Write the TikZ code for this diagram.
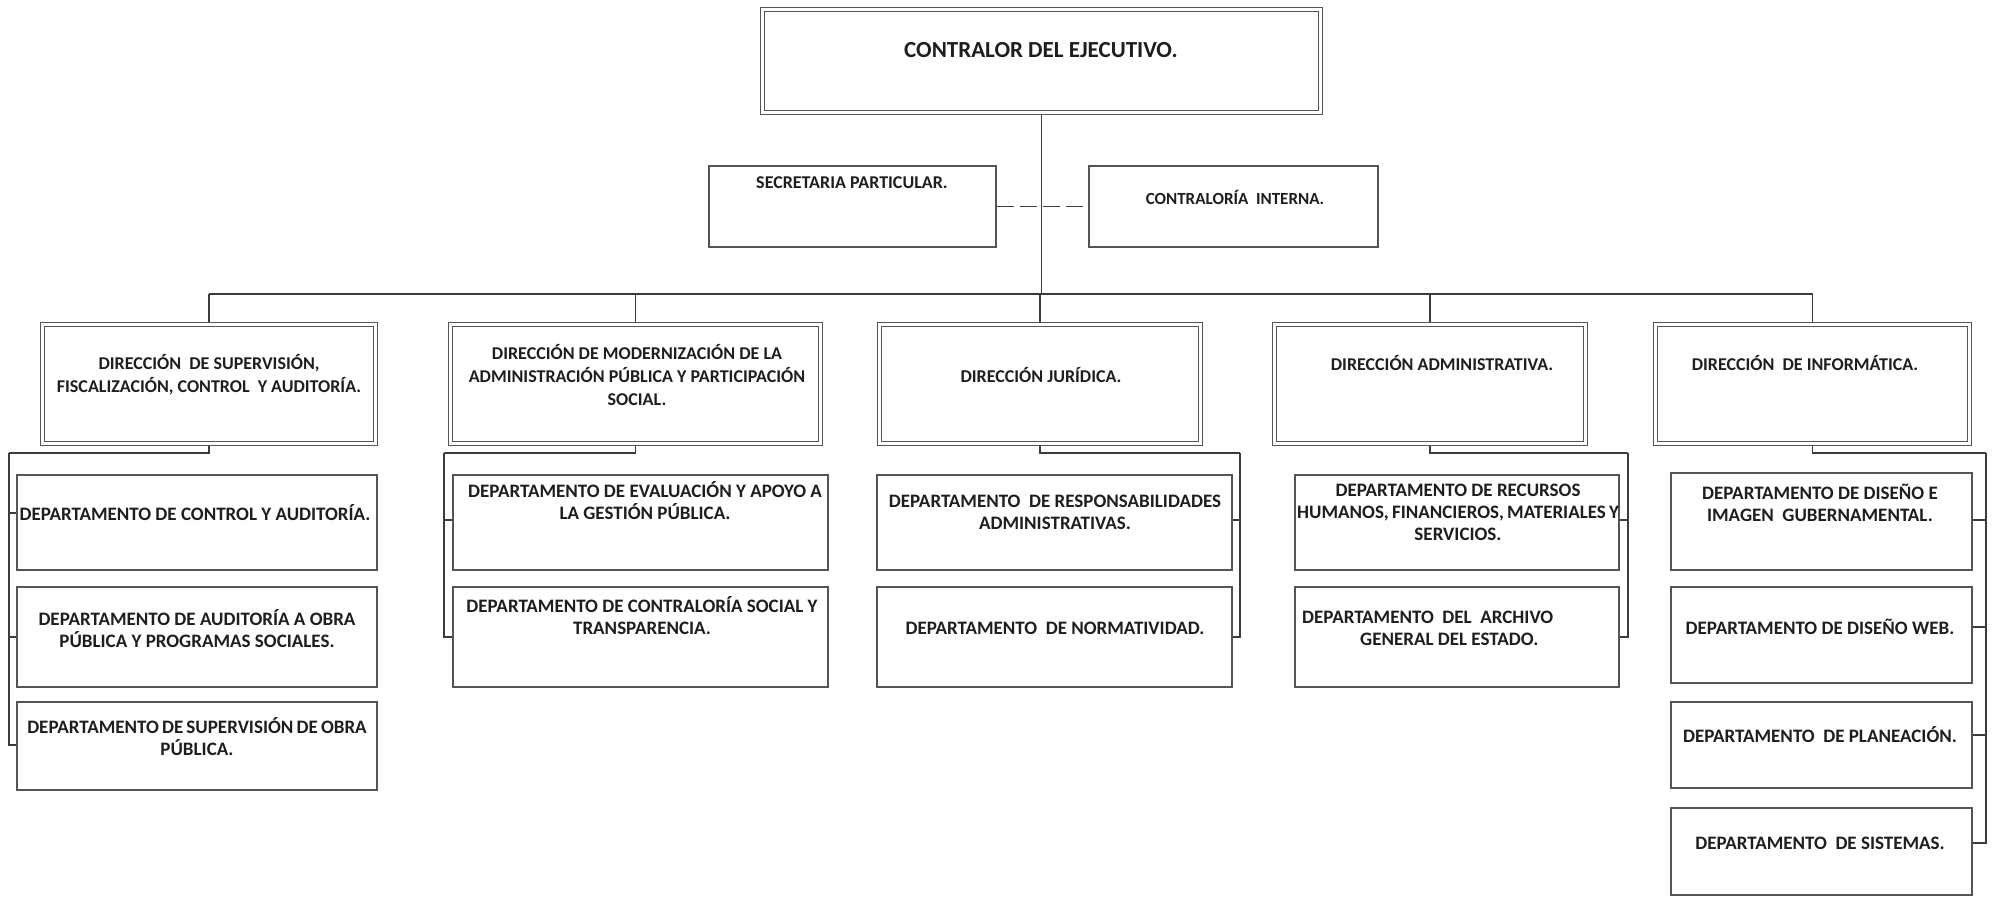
\documentclass[tikz,border=0pt]{standalone}
\usepackage{fontspec}
\setmainfont{Carlito}
\usetikzlibrary{backgrounds}
\definecolor{ln}{HTML}{555555}
\definecolor{cn}{HTML}{3C3C3C}
\definecolor{tx}{HTML}{1E1E1E}
\begin{document}
\begin{tikzpicture}[x=1pt,y=-1pt,
  dbox/.style={draw=ln, line width=1.1pt, double=white, double distance=2.8pt, fill=white, inner sep=0pt},
  sbox/.style={draw=ln, line width=1.3pt, fill=white, inner sep=0pt},
  conn/.style={draw=cn, line width=1.2pt},
  dept/.style={text=tx, font=\bfseries\fontsize{19}{22}\selectfont, align=center, inner sep=0pt},
  dirl/.style={text=tx, font=\bfseries\fontsize{18}{23}\selectfont, align=center, inner sep=0pt}]
\useasboundingbox (0,0) rectangle (1992,897);

% top level
\node[dbox, minimum width=558pt, minimum height=103pt] (top) at (1041.5,61) {};
\node[sbox, minimum width=287pt, minimum height=81pt] (sec) at (852.5,206.5) {};
\node[sbox, minimum width=289pt, minimum height=81pt] (con) at (1233.5,206.5) {};

% direcciones
\node[dbox, minimum width=333pt, minimum height=119pt] (d1) at (209,384) {};
\node[dbox, minimum width=370pt, minimum height=119pt] (d2) at (635.5,384) {};
\node[dbox, minimum width=321pt, minimum height=119pt] (d3) at (1040,384) {};
\node[dbox, minimum width=311pt, minimum height=119pt] (d4) at (1430,384) {};
\node[dbox, minimum width=314pt, minimum height=119pt] (d5) at (1812.5,384) {};

% departamentos
\node[sbox, minimum width=360pt, minimum height=95pt] (p11) at (197,522.5) {};
\node[sbox, minimum width=360pt, minimum height=100pt] (p12) at (197,637) {};
\node[sbox, minimum width=360pt, minimum height=88pt] (p13) at (197,746) {};
\node[sbox, minimum width=375pt, minimum height=95pt] (p21) at (640.5,522.5) {};
\node[sbox, minimum width=375pt, minimum height=100pt] (p22) at (640.5,637) {};
\node[sbox, minimum width=355pt, minimum height=95pt] (p31) at (1054.5,522.5) {};
\node[sbox, minimum width=355pt, minimum height=100pt] (p32) at (1054.5,637) {};
\node[sbox, minimum width=324pt, minimum height=95pt] (p41) at (1457,522.5) {};
\node[sbox, minimum width=324pt, minimum height=100pt] (p42) at (1457,637) {};
\node[sbox, minimum width=301pt, minimum height=97pt] (p51) at (1821.5,521.5) {};
\node[sbox, minimum width=301pt, minimum height=96pt] (p52) at (1821.5,635) {};
\node[sbox, minimum width=301pt, minimum height=86pt] (p53) at (1821.5,745) {};
\node[sbox, minimum width=301pt, minimum height=87pt] (p54) at (1821.5,851.5) {};

% connectors
\begin{scope}[on background layer]
\fill[white] (0,0) rectangle (1992,897);
\coordinate (busL) at (209,294);
\coordinate (busR) at (1813,294);
\draw[conn] (top.south) -- (top.south |- busL);
\draw[conn] (busL) -- (busR);
\draw[conn] (d1.north) -- (d1.north |- busL);
\draw[conn] (d2.north) -- (d2.north |- busL);
\draw[conn] (d3.north) -- (d3.north |- busL);
\draw[conn] (d4.north) -- (d4.north |- busL);
\draw[conn] (d5.north) -- (d5.north |- busL);
\draw[conn, dash pattern=on 17pt off 6pt] (sec.east) -- (con.west);

\coordinate (j1) at (9,453);
\coordinate (j2) at (444,453);
\coordinate (j3) at (1240,453);
\coordinate (j4) at (1628,453);
\coordinate (j5) at (1986,453);
\draw[conn] (d1.south) |- (j1);
\draw[conn] (j1) |- ([yshift=9.5pt]p11.west);
\draw[conn] (j1) |- (p12.west);
\draw[conn] (j1) |- ([yshift=1pt]p13.west);
\draw[conn] (d2.south) |- (j2);
\draw[conn] (j2) |- ([yshift=2.5pt]p21.west);
\draw[conn] (j2) |- (p22.west);
\draw[conn] (d3.south) |- (j3);
\draw[conn] (j3) |- ([yshift=2.5pt]p31.east);
\draw[conn] (j3) |- (p32.east);
\draw[conn] (d4.south) |- (j4);
\draw[conn] (j4) |- ([yshift=2.5pt]p41.east);
\draw[conn] (j4) |- (p42.east);
\draw[conn] (d5.south) |- (j5);
\draw[conn] (j5) |- ([yshift=1.5pt]p51.east);
\draw[conn] (j5) |- ([yshift=8pt]p52.east);
\draw[conn] (j5) |- ([yshift=10pt]p53.east);
\draw[conn] (j5) |- ([yshift=8.5pt]p54.east);
\end{scope}

% texts
\node[dept, font=\bfseries\fontsize{23}{27}\selectfont] (t0) at (1041,50) {CONTRALOR DEL EJECUTIVO.};
\node[dirl] (ts) at (852,183) {SECRETARIA PARTICULAR.};
\node[dirl, font=\bfseries\fontsize{17}{21}\selectfont] (tc) at (1235,197) {CONTRALORÍA~ INTERNA.};

\node[dirl] (td1) at (209,375) {DIRECCIÓN~ DE SUPERVISIÓN,\\FISCALIZACIÓN, CONTROL~ Y AUDITORÍA.};
\node[dirl] (td2) at (637,374.5) {DIRECCIÓN DE MODERNIZACIÓN DE LA\\ADMINISTRACIÓN PÚBLICA Y PARTICIPACIÓN\\SOCIAL.};
\node[dirl] (td3) at (1041,375) {DIRECCIÓN JURÍDICA.};
\node[dirl] (td4) at (1442,363) {DIRECCIÓN ADMINISTRATIVA.};
\node[dirl] (td5) at (1805,363) {DIRECCIÓN~ DE INFORMÁTICA.};

\node[dept] (tp11) at (195,513) {DEPARTAMENTO DE CONTROL Y AUDITORÍA.};
\node[dept] (tp12) at (197,629) {DEPARTAMENTO DE AUDITORÍA A OBRA\\PÚBLICA Y PROGRAMAS SOCIALES.};
\node[dept] (tp13) at (197,736.5) {DEPARTAMENTO\,DE\,SUPERVISIÓN\,DE\,OBRA\\PÚBLICA.};
\node[dept] (tp21) at (645,501) {DEPARTAMENTO DE EVALUACIÓN Y APOYO A\\LA GESTIÓN PÚBLICA.};
\node[dept] (tp22) at (642,616) {DEPARTAMENTO DE CONTRALORÍA SOCIAL Y\\TRANSPARENCIA.};
\node[dept] (tp31) at (1055,512.5) {DEPARTAMENTO~ DE RESPONSABILIDADES\\ADMINISTRATIVAS.};
\node[dept] (tp32) at (1055,628) {DEPARTAMENTO~ DE NORMATIVIDAD.};
\node[dept] (tp41) at (1458,512.5) {DEPARTAMENTO DE RECURSOS\\HUMANOS,\,FINANCIEROS,\,MATERIALES\,Y\\SERVICIOS.};
\node[dept, anchor=west] (tp42a) at (1302,617) {DEPARTAMENTO~ DEL~ ARCHIVO};
\node[dept, anchor=west] (tp42b) at (1360,639) {GENERAL DEL ESTADO.};
\node[dept] (tp51) at (1820,503) {DEPARTAMENTO DE DISEÑO E\\IMAGEN~ GUBERNAMENTAL.};
\node[dept] (tp52) at (1820,627) {DEPARTAMENTO DE DISEÑO WEB.};
\node[dept] (tp53) at (1820,735) {DEPARTAMENTO~ DE PLANEACIÓN.};
\node[dept] (tp54) at (1820,843) {DEPARTAMENTO~ DE SISTEMAS.};
\end{tikzpicture}
\end{document}
